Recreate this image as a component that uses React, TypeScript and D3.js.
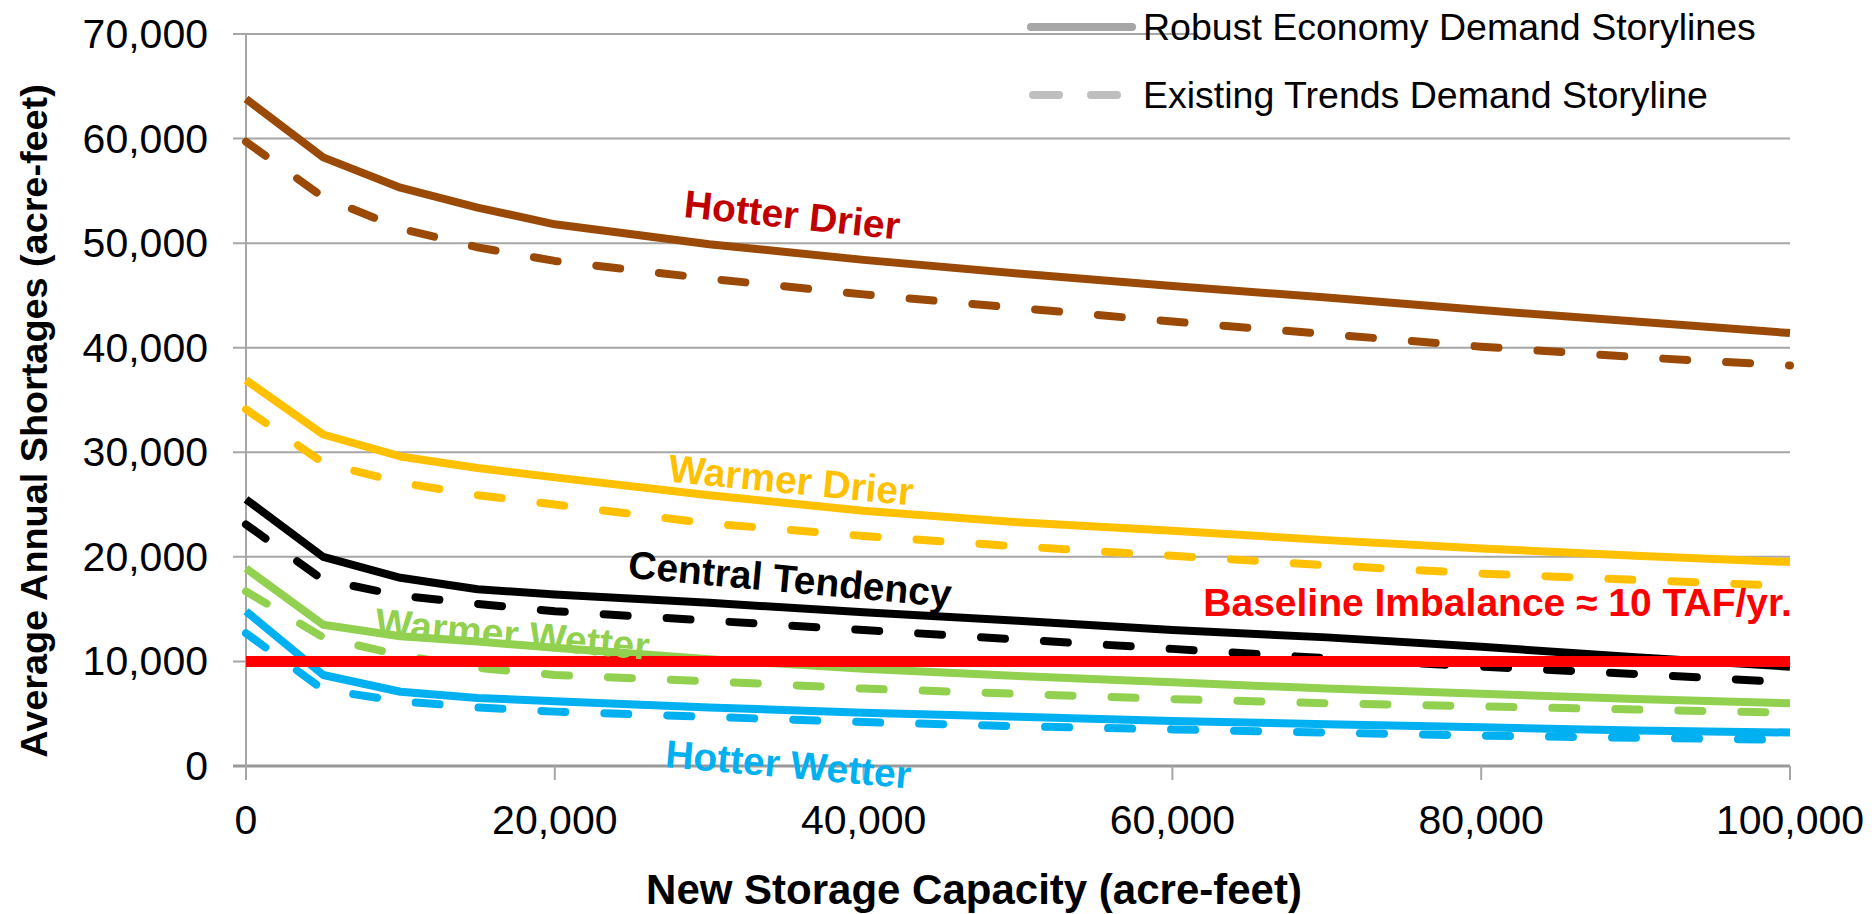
import React from "react";
import * as d3 from "d3";

const storage = [0, 5000, 10000, 15000, 20000, 30000, 40000, 50000, 60000, 70000, 80000, 90000, 100000];

const hotterDrierRobust = [63800, 58200, 55300, 53400, 51800, 49900, 48400, 47100, 45900, 44800, 43600, 42500, 41400];
const hotterDrierTrends = [59700, 54400, 51400, 49600, 48300, 46600, 45100, 43800, 42500, 41300, 40100, 39100, 38300];
const warmerDrierRobust = [36900, 31700, 29600, 28500, 27600, 25900, 24400, 23300, 22500, 21600, 20800, 20100, 19500];
const warmerDrierTrends = [34100, 29000, 27100, 25900, 25000, 23200, 22000, 21000, 20100, 19200, 18400, 17800, 17200];
const centralRobust = [25500, 20000, 18000, 16900, 16400, 15600, 14700, 13900, 13000, 12300, 11400, 10400, 9500];
const centralTrends = [23100, 17800, 16300, 15500, 14800, 13900, 13000, 12100, 11200, 10300, 9500, 8800, 8000];
const warmerWetterRobust = [18900, 13500, 12400, 11900, 11300, 10200, 9300, 8600, 8000, 7400, 6900, 6400, 6000];
const warmerWetterTrends = [16700, 12300, 10600, 9400, 8700, 8100, 7400, 6900, 6400, 6000, 5700, 5400, 5100];
const hotterWetterRobust = [14800, 8700, 7100, 6500, 6200, 5600, 5100, 4700, 4300, 4000, 3700, 3400, 3200];
const hotterWetterTrends = [12700, 7300, 6200, 5600, 5200, 4700, 4200, 3800, 3500, 3200, 2900, 2700, 2500];

const baselineImbalance = 10000;

const yTicks = [0, 10000, 20000, 30000, 40000, 50000, 60000, 70000];
const xTicks = [0, 20000, 40000, 60000, 80000, 100000];

const legendLabels = ["Robust Economy Demand Storylines", "Existing Trends Demand Storyline"];

const seriesList = [
  { name: "Hotter Drier", color: "#9A4A06", values: hotterDrierRobust, dashed: false },
  { name: "Hotter Drier", color: "#9A4A06", values: hotterDrierTrends, dashed: true },
  { name: "Warmer Drier", color: "#FFC000", values: warmerDrierRobust, dashed: false },
  { name: "Warmer Drier", color: "#FFC000", values: warmerDrierTrends, dashed: true },
  { name: "Central Tendency", color: "#000000", values: centralRobust, dashed: false },
  { name: "Central Tendency", color: "#000000", values: centralTrends, dashed: true },
  { name: "Warmer Wetter", color: "#92D050", values: warmerWetterRobust, dashed: false },
  { name: "Warmer Wetter", color: "#92D050", values: warmerWetterTrends, dashed: true },
  { name: "Hotter Wetter", color: "#00B0F0", values: hotterWetterRobust, dashed: false },
  { name: "Hotter Wetter", color: "#00B0F0", values: hotterWetterTrends, dashed: true },
];

const labels = [
  { text: "Hotter Drier", color: "#C00000", x: 28300, y: 52500, rot: 6 },
  { text: "Warmer Drier", color: "#FFC000", x: 27300, y: 27200, rot: 5.6 },
  { text: "Central Tendency", color: "#000000", x: 24700, y: 18000, rot: 5.2 },
  { text: "Warmer Wetter", color: "#92D050", x: 8300, y: 12500, rot: 5.1 },
  { text: "Baseline Imbalance \u2248 10 TAF/yr.", color: "#FF0000", x: 62000, y: 14300, rot: 0 },
  { text: "Hotter Wetter", color: "#00B0F0", x: 27100, y: -100, rot: 5 },
];

const FONT = "'Liberation Sans', Arial, Helvetica, sans-serif";

export default function App() {
  const W = 1874;
  const H = 914;
  const x = d3.scaleLinear().domain([0, 100000]).range([246, 1790]);
  const y = d3.scaleLinear().domain([0, 70000]).range([766, 34]);
  const line = d3
    .line<number>()
    .x((_, i) => x(storage[i]))
    .y((d) => y(d));

  const gridColor = "#A6A6A6";

  return (
    <svg
      width={W}
      height={H}
      style={{ position: "absolute", left: 0, top: 0, display: "block", background: "#fff" }}
      fontFamily={FONT}
    >
      {yTicks.map((t) => (
        <line
          key={"g" + t}
          x1={x(0) - 13}
          x2={x(100000)}
          y1={y(t)}
          y2={y(t)}
          stroke={t === 0 ? "#999" : gridColor}
          strokeWidth={t === 0 ? 3 : 2}
        />
      ))}
      <line x1={x(0)} x2={x(0)} y1={y(70000)} y2={y(0) + 14} stroke={gridColor} strokeWidth={2} />
      {xTicks.map((t) => (
        <line key={"xt" + t} x1={x(t)} x2={x(t)} y1={y(0)} y2={y(0) + 14} stroke={gridColor} strokeWidth={2} />
      ))}
      {yTicks.map((t) => (
        <text key={"yl" + t} x={x(0) - 38} y={y(t) + 14} textAnchor="end" fontSize={41} fill="#000">
          {d3.format(",")(t)}
        </text>
      ))}
      {xTicks.map((t) => (
        <text key={"xl" + t} x={x(t)} y={y(0) + 68} textAnchor="middle" fontSize={41} fill="#000">
          {d3.format(",")(t)}
        </text>
      ))}
      <text
        transform={`translate(47, ${(y(0) + y(70000)) / 2 + 21}) rotate(-90)`}
        textAnchor="middle"
        fontSize={37.8}
        fontWeight="bold"
        fill="#000"
      >
        Average Annual Shortages (acre-feet)
      </text>
      <text x={(x(0) + x(100000)) / 2 - 44} y={904} textAnchor="middle" fontSize={42} fontWeight="bold" fill="#000">
        New Storage Capacity (acre-feet)
      </text>

      <rect x={1195} y={0} width={620} height={118} fill="#fff" />

      {seriesList.map((s, i) => (
        <path
          key={"s" + i}
          d={line(s.values) || ""}
          fill="none"
          stroke={s.color}
          strokeWidth={8}
          strokeLinejoin="round"
          strokeLinecap={s.dashed ? "round" : "butt"}
          strokeDasharray={s.dashed ? "24 39" : undefined}
        />
      ))}

      <line
        x1={x(0)}
        x2={x(100000)}
        y1={y(baselineImbalance)}
        y2={y(baselineImbalance)}
        stroke="#FF0000"
        strokeWidth={11}
      />

      {labels.map((l, i) => (
        <text
          key={"lab" + i}
          transform={`translate(${x(l.x)}, ${y(l.y)}) rotate(${l.rot})`}
          fontSize={39}
          fontWeight="bold"
          fill={l.color}
        >
          {l.text}
        </text>
      ))}

      <line x1={1031} x2={1132} y1={27} y2={27} stroke="#A6A6A6" strokeWidth={8} strokeLinecap="round" />
      <line
        x1={1033}
        x2={1120}
        y1={95}
        y2={95}
        stroke="#BFBFBF"
        strokeWidth={8}
        strokeLinecap="round"
        strokeDasharray="26 32"
      />
      <text x={1143} y={40} fontSize={37.5} fill="#000">
        {legendLabels[0]}
      </text>
      <text x={1143} y={108} fontSize={37.5} fill="#000">
        {legendLabels[1]}
      </text>
    </svg>
  );
}
